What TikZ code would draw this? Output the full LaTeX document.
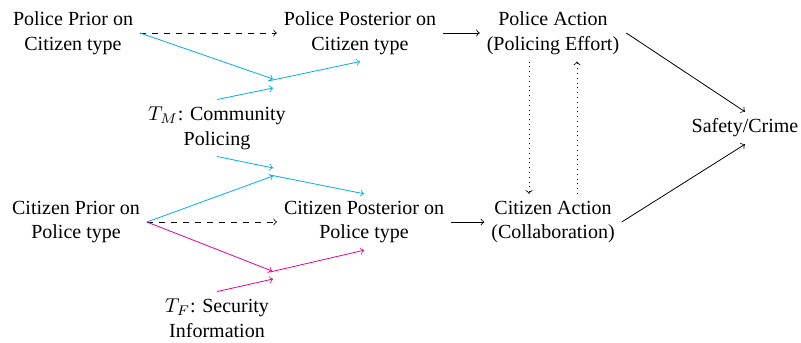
\documentclass[tikz,border=0pt]{standalone}
\usepackage{fontspec}
\setmainfont{Liberation Serif}
\definecolor{cblue}{RGB}{0,174,239}
\definecolor{cpink}{RGB}{236,0,140}
\begin{document}
\begin{tikzpicture}[x=0.5pt,y=-0.5pt,
  lbl/.style={align=center,font=\fontsize{10pt}{12.4pt}\selectfont},
  arr/.style={->,line width=0.4pt},
  bl/.style={arr,cblue},
  pk/.style={arr,cpink}]
\useasboundingbox (0,0) rectangle (801,342);
\node[lbl] (pprior) at (73,33) {Police Prior on\\Citizen type};
\node[lbl] (ppost) at (360,33) {Police Posterior on\\Citizen type};
\node[lbl] (pact) at (553,33) {Police Action\\(Policing Effort)};
\node[lbl] (safe) at (745,128) {Safety/Crime};
\node[lbl] (tm) at (217,128) {$T_M$: Community\\Policing};
\node[lbl] (cprior) at (76,222) {Citizen Prior on\\Police type};
\node[lbl] (cpost) at (364,222) {Citizen Posterior on\\Police type};
\node[lbl] (cact) at (553,222) {Citizen Action\\(Collaboration)};
\node[lbl] (tf) at (217,318) {$T_F$: Security\\Information};
% junction coordinates
\coordinate (mA) at (273,79);
\coordinate (mB) at (273,88);
\coordinate (mC) at (268,81);
\coordinate (nA) at (273,168);
\coordinate (nB) at (273,176);
\coordinate (nC) at (270,175);
\coordinate (fA) at (272,271);
\coordinate (fB) at (273,279);
\coordinate (fC) at (270,272);
% top row
\draw[arr,dashed] (pprior.east) -- (ppost.west);
\draw[bl] (pprior.east) -- (mA);
\draw[bl] (tm.north) -- (mB);
\draw[bl] (mC) -- (ppost.south);
\draw[arr] (ppost.east) -- (pact.west);
% bottom row
\draw[bl] (tm.south) -- (nA);
\draw[bl] (cprior.east) -- (nB);
\draw[bl] (nC) -- (cpost.north);
\draw[arr,dashed] (cprior.east) -- (cpost.west);
\draw[pk] (cprior.east) -- (fA);
\draw[pk] (tf.north) -- (fB);
\draw[pk] (fC) -- (cpost.south);
\draw[arr] (cpost.east) -- (cact.west);
% actions
\draw[arr,dotted] ([xshift=-12pt]pact.south) -- ([xshift=-12pt]cact.north);
\draw[arr,dotted] ([xshift=12pt]cact.north) -- ([xshift=12pt]pact.south);
\draw[arr] (pact.east) -- (safe.north);
\draw[arr] (cact.east) -- (safe.south);
\end{tikzpicture}
\end{document}
